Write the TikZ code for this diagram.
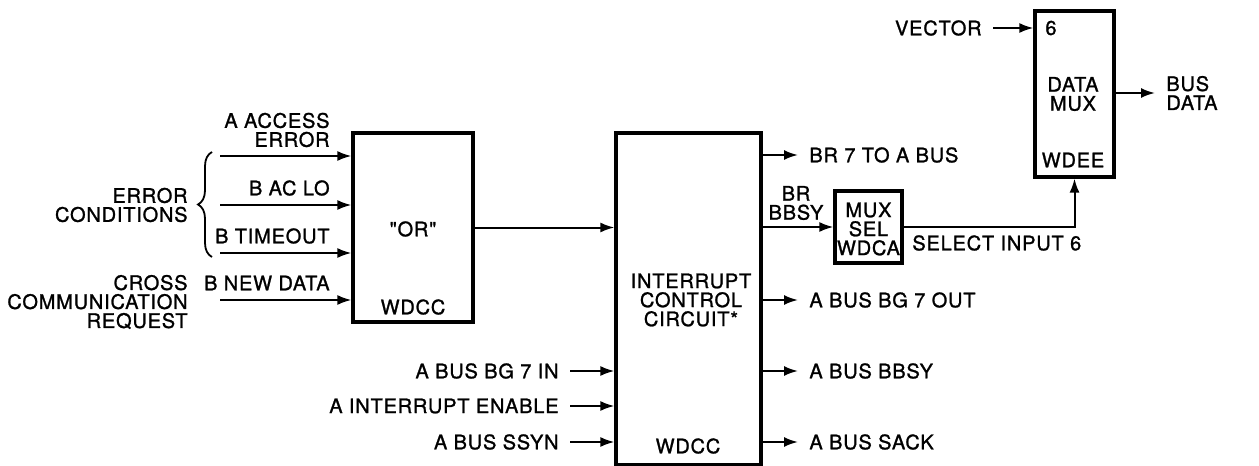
\documentclass[tikz,border=0pt]{standalone}
\usepackage{fontspec}
\setmainfont{TeX Gyre Heros}[LetterSpace=4, FakeBold=1.2, Ligatures=TeXOff]
\usetikzlibrary{arrows.meta,positioning,decorations.pathreplacing}

\tikzset{
  blk/.style={draw, line width=1.6pt, inner sep=0pt},
  sig/.style={line width=1pt, -{Latex[length=7pt,width=5pt]}},
  lbl/.style={inner ysep=0pt, inner xsep=5.5pt, font=\fontsize{10}{9.5}\selectfont},
  tag/.style={lbl, inner sep=0pt},
}

\begin{document}
\begin{tikzpicture}[x=0.5pt,y=-0.5pt]
    \useasboundingbox (0,0) rectangle (1259,466);

    % blocks
    \node[blk, minimum width=60pt, minimum height=94.5pt] (orbox) at (413,227.5) {};
    \node[blk, minimum width=72.5pt, minimum height=166pt] (icc) at (688.5,299) {};
    \node[blk, minimum width=33.5pt, minimum height=36pt] (muxsel) at (868.5,227) {};
    \node[blk, minimum width=39.5pt, minimum height=83pt] (datamux) at (1074.5,94) {};

    % text in the blocks
    \node[tag] (ortxt) at (413,229) {"OR"};
    \node[tag] (orchip) at (413,307) {WDCC};
    \node[tag, align=center] (icctxt) at (691,300) {INTERRUPT\\CONTROL\\CIRCUIT*};
    \node[tag] (iccchip) at (688,446) {WDCC};
    \node[tag, align=center] (muxtxt) at (868.5,229) {MUX\\SEL\\WDCA};
    \node[tag, anchor=west] (din6) at (1045,28) {6};
    \node[tag, align=center] (dmtxt) at (1073,94) {DATA\\MUX};
    \node[tag] (dmchip) at (1073,160) {WDEE};

    % error inputs to the "OR"
    \coordinate (inacc) at (220,156);
    \coordinate (inaclo) at (220,205);
    \coordinate (intime) at (220,253);
    \coordinate (innew) at (220,300);
    \node[tag, anchor=east, align=right] (lacc) at (330,130) {A ACCESS\\ERROR};
    \node[tag, anchor=east] (laclo) at (330,188) {B AC LO};
    \node[tag, anchor=east] (ltime) at (330,236) {B TIMEOUT};
    \node[tag, anchor=east] (lnew) at (330,283) {B NEW DATA};
    \foreach \p in {inacc,inaclo,intime,innew}
        \draw[sig] (\p) -- (\p -| orbox.west);

    \draw[decorate, decoration={brace, amplitude=7pt}, line width=0.9pt] (212,257) -- (212,152);
    \node[tag, anchor=east, align=right] (errc) at (188,205) {ERROR\\CONDITIONS};
    \node[tag, anchor=east, align=right] (xreq) at (188,302) {CROSS\\COMMUNICATION\\REQUEST};

    \draw[sig] (orbox.east) -- (orbox.east -| icc.west);

    % inputs to the interrupt control
    \node[lbl, anchor=east] (bg7in) at (570,371) {A BUS BG 7 IN};
    \node[lbl, anchor=east] (inten) at (570,406) {A INTERRUPT ENABLE};
    \node[lbl, anchor=east] (ssyn) at (570,442) {A BUS SSYN};
    \foreach \p in {bg7in,inten,ssyn}
        \draw[sig] (\p.east) -- (\p -| icc.west);

    % outputs of the interrupt control
    \node[lbl, anchor=west] (br7) at (798,155) {BR 7 TO A BUS};
    \node[lbl, anchor=west] (bg7out) at (798,300) {A BUS BG 7 OUT};
    \node[lbl, anchor=west] (bbsy) at (798,371) {A BUS BBSY};
    \node[lbl, anchor=west] (sack) at (798,442) {A BUS SACK};
    \foreach \p in {br7,bg7out,bbsy,sack}
        \draw[sig] (\p -| icc.east) -- (\p.west);

    \node[tag, align=center] (brbbsy) at (796,203) {BR\\BBSY};
    \draw[sig] (muxsel.west -| icc.east) -- (muxsel.west);

    % select and data mux
    \draw[sig] (muxsel.east) -| (datamux.south);
    \node[tag, anchor=west] (selin) at (912,243) {SELECT INPUT 6};

    \node[lbl, anchor=east] (vect) at (993,28) {VECTOR};
    \draw[sig] (vect.east) -- (vect -| datamux.west);

    \node[lbl, anchor=west, align=left] (busdata) at (1155,93) {BUS\\DATA};
    \draw[sig] (busdata -| datamux.east) -- (busdata.west);
\end{tikzpicture}
\end{document}
